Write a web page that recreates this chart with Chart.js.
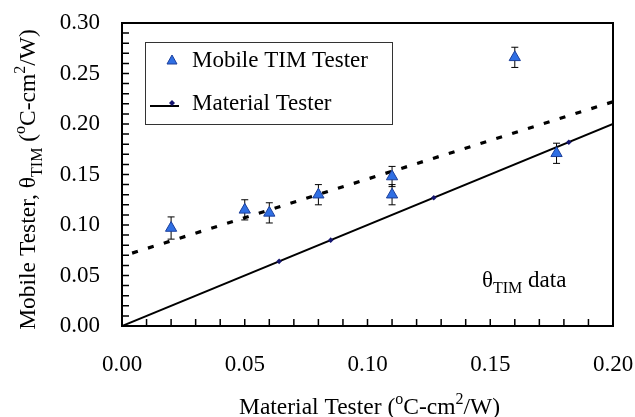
<!DOCTYPE html>
<html>
<head>
<meta charset="utf-8">
<script src="https://cdn.jsdelivr.net/npm/chart.js@4.4.0/dist/chart.umd.min.js"></script>
<style>
  html, body { margin: 0; padding: 0; background: #fff; }
  #wrap { width: 635px; height: 417px; }
</style>
</head>
<body>
<div id="wrap"><canvas id="myChart" width="635" height="417"></canvas></div>
<script>
// mobile TIM tester vs material tester
const mobileX = [0.02, 0.05, 0.06, 0.08, 0.11, 0.11, 0.16, 0.177];
const mobileY = [0.097, 0.115, 0.112, 0.130, 0.148, 0.130, 0.266, 0.171];
const mobileErr = [0.011, 0.010, 0.010, 0.010, 0.010, 0.010, 0.010, 0.010];

const materialX = [0.064, 0.085, 0.127, 0.182];
const materialY = [0.064, 0.085, 0.127, 0.182];

// y = x reference line and dashed fit
const unityX = [0, 0.2];
const unityY = [0, 0.2];
const fitX = [0, 0.2];
const fitY = [0.069, 0.222];

const xTicks = [0.00, 0.05, 0.10, 0.15, 0.20];
const yTicks = [0.00, 0.05, 0.10, 0.15, 0.20, 0.25, 0.30];

const FONT = '"Liberation Serif", "Times New Roman", serif';
const FS = 23;
const pts = (xs, ys) => xs.map((x, i) => ({ x: x, y: ys[i] }));
const isMajor = (v, list) => list.some(t => Math.abs(t - v) < 1e-6);

// draw text with sub/superscript pieces; align 'center' or 'left'
function richText(ctx, parts, x, y, size, align) {
  const small = Math.round(size * 0.68);
  let w = 0;
  parts.forEach(p => {
    ctx.font = (p.sub || p.sup ? small : size) + 'px ' + FONT;
    p.w = ctx.measureText(p.t).width;
    w += p.w;
  });
  let cx = align === 'left' ? x : x - w / 2;
  ctx.textAlign = 'left';
  parts.forEach(p => {
    ctx.font = (p.sub || p.sup ? small : size) + 'px ' + FONT;
    let dy = 0;
    if (p.sub) dy = size * 0.28;
    if (p.sup) dy = -size * 0.42;
    ctx.fillText(p.t, cx, y + dy);
    cx += p.w;
  });
  return w;
}

const extras = {
  id: 'extras',
  beforeDatasetsDraw(chart) {
    const { ctx, scales: { x, y } } = chart;
    ctx.save();
    ctx.strokeStyle = '#000';
    ctx.lineWidth = 1;
    mobileX.forEach((v, i) => {
      const px = x.getPixelForValue(v);
      const top = y.getPixelForValue(mobileY[i] + mobileErr[i]);
      const bot = y.getPixelForValue(mobileY[i] - mobileErr[i]);
      ctx.beginPath();
      ctx.moveTo(px, top); ctx.lineTo(px, bot);
      ctx.moveTo(px - 3.5, top); ctx.lineTo(px + 3.5, top);
      ctx.moveTo(px - 3.5, bot); ctx.lineTo(px + 3.5, bot);
      ctx.stroke();
    });
    ctx.restore();
  },
  afterDraw(chart) {
    const { ctx, chartArea: a, scales: { x, y } } = chart;
    ctx.save();
    // frame
    ctx.strokeStyle = '#000';
    ctx.lineWidth = 2;
    ctx.strokeRect(a.left, a.top, a.right - a.left, a.bottom - a.top);
    // inward ticks
    ctx.lineWidth = 1.5;
    ctx.beginPath();
    x.ticks.forEach(t => {
      const px = x.getPixelForValue(t.value);
      ctx.moveTo(px, a.bottom); ctx.lineTo(px, a.bottom - 7);
    });
    y.ticks.forEach(t => {
      const py = y.getPixelForValue(t.value);
      ctx.moveTo(a.left, py); ctx.lineTo(a.left + 7, py);
    });
    ctx.stroke();

    ctx.fillStyle = '#000';
    ctx.textBaseline = 'alphabetic';
    // x title
    richText(ctx, [{ t: 'Material Tester (' }, { t: 'o', sup: true }, { t: 'C-cm' }, { t: '2', sup: true }, { t: '/W)' }],
      (a.left + a.right) / 2 + 2, 414, FS + 0.5, 'center');
    // y title
    ctx.save();
    ctx.translate(35, (a.top + a.bottom) / 2 + 5);
    ctx.rotate(-Math.PI / 2);
    richText(ctx, [{ t: 'Mobile Tester, θ' }, { t: 'TIM', sub: true }, { t: ' (' }, { t: 'o', sup: true }, { t: 'C-cm' }, { t: '2', sup: true }, { t: '/W)' }],
      0, 0, FS + 0.5, 'center');
    ctx.restore();
    // annotation
    richText(ctx, [{ t: 'θ' }, { t: 'TIM', sub: true }, { t: ' data' }], 482, 287, FS, 'left');

    // legend
    const lx = a.left + 23, ly = a.top + 19, lw = 247, lh = 82;
    ctx.lineWidth = 1;
    ctx.strokeStyle = '#333';
    ctx.strokeRect(lx + 0.5, ly + 0.5, lw, lh);
    const d0 = chart.data.datasets[0], d1 = chart.data.datasets[1];
    ctx.fillStyle = d0.backgroundColor;
    ctx.strokeStyle = d0.borderColor;
    ctx.beginPath();
    ctx.moveTo(lx + 27, ly + 13); ctx.lineTo(lx + 32, ly + 22); ctx.lineTo(lx + 22, ly + 22); ctx.closePath();
    ctx.fill(); ctx.stroke();
    ctx.strokeStyle = '#000';
    ctx.lineWidth = 2;
    ctx.beginPath();
    ctx.moveTo(lx + 5, ly + 64); ctx.lineTo(lx + 34, ly + 64);
    ctx.stroke();
    ctx.fillStyle = d1.backgroundColor;
    ctx.beginPath();
    ctx.moveTo(lx + 27, ly + 58); ctx.lineTo(lx + 30, ly + 61); ctx.lineTo(lx + 27, ly + 64); ctx.lineTo(lx + 24, ly + 61); ctx.closePath();
    ctx.fill();
    ctx.fillStyle = '#000';
    ctx.font = FS + 'px ' + FONT;
    ctx.textAlign = 'left';
    ctx.textBaseline = 'middle';
    ctx.fillText('Mobile TIM Tester', lx + 47, ly + 19);
    ctx.fillText('Material Tester', lx + 47, ly + 62);
    ctx.restore();
  }
};

const ctx = document.getElementById('myChart');

new Chart(ctx, {
  type: 'scatter',
  data: {
    datasets: [{
      label: 'Mobile TIM Tester',
      data: pts(mobileX, mobileY),
      pointStyle: 'triangle',
      pointRadius: 6.5,
      pointHoverRadius: 6.5,
      backgroundColor: '#2f6fe4',
      borderColor: '#1c3f9a',
      borderWidth: 1,
      order: 1
    }, {
      label: 'Material Tester',
      data: pts(materialX, materialY),
      pointStyle: 'rectRot',
      pointRadius: 2.8,
      backgroundColor: '#14146e',
      borderColor: '#14146e',
      borderWidth: 0,
      order: 2
    }, {
      label: 'unity',
      data: pts(unityX, unityY),
      showLine: true,
      pointRadius: 0,
      borderColor: '#000',
      borderWidth: 2,
      order: 3
    }, {
      label: 'fit',
      data: pts(fitX, fitY),
      showLine: true,
      pointRadius: 0,
      borderColor: '#000',
      borderWidth: 3.2,
      borderDash: [6, 10.6],
      borderDashOffset: 6,
      borderCapStyle: 'butt',
      order: 4
    }]
  },
  options: {
    responsive: false,
    animation: false,
    events: [],
    layout: { padding: { top: 23, right: 22, left: 0, bottom: 0 } },
    plugins: {
      legend: { display: false },
      tooltip: { enabled: false }
    },
    scales: {
      x: {
        type: 'linear',
        min: 0,
        max: 0.2,
        afterFit(scale) {
          scale.height = 91;
          scale.paddingLeft = 0;
          scale.paddingRight = 0;
        },
        grid: { display: false, drawTicks: false },
        border: { display: false },
        ticks: {
          stepSize: 0.01,
          padding: 25,
          autoSkip: false,
          maxRotation: 0,
          color: '#000',
          font: { family: FONT, size: FS },
          callback: v => isMajor(v, xTicks) ? v.toFixed(2) : ''
        }
      },
      y: {
        type: 'linear',
        min: 0,
        max: 0.3,
        afterFit(scale) {
          scale.width = 122;
          scale.paddingTop = 0;
          scale.paddingBottom = 0;
        },
        grid: { display: false, drawTicks: false },
        border: { display: false },
        ticks: {
          stepSize: 0.01,
          padding: 22,
          autoSkip: false,
          color: '#000',
          font: { family: FONT, size: FS },
          callback: v => isMajor(v, yTicks) ? v.toFixed(2) : ''
        }
      }
    }
  },
  plugins: [extras]
});
</script>
</body>
</html>
